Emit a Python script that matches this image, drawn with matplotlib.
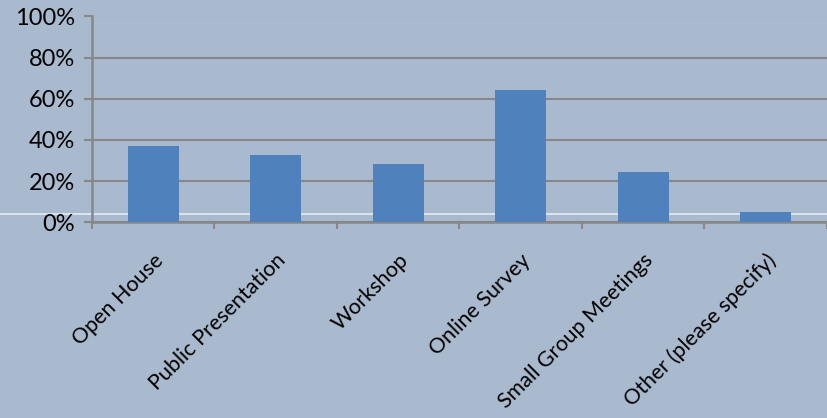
import matplotlib.pyplot as plt
import numpy as np
from matplotlib.ticker import FixedLocator, PercentFormatter

categories = ['Open House', 'Public Presentation', 'Workshop',
              'Online Survey', 'Small Group Meetings', 'Other (please specify)']
values = [37.1, 32.6, 28.1, 64.4, 24.6, 5.2]
yticks = [0, 20, 40, 60, 80, 100]

bg = '#a9b9ce'
bar_color = '#4f81bd'
grid_color = '#878787'

plt.rcParams['font.family'] = ['Lato', 'DejaVu Sans']

fig = plt.figure(figsize=(8.28, 4.18), dpi=100, facecolor=bg)
ax = fig.add_axes([92 / 828, 1 - 222.3 / 418, 735 / 828, 205.8 / 418])
ax.set_facecolor('none')

x = np.arange(len(categories))
ax.bar(x, values, width=0.42, color=bar_color, zorder=3)

# faint white line across the picture just above the baseline
ax.axhline(4.1, xmin=-92 / 735, xmax=1.2, color='#e6ecf3', lw=1.2,
           clip_on=False, zorder=1.5)

ax.set_xlim(-0.5, len(categories) - 0.5)
ax.set_ylim(0, 100)
ax.set_yticks(yticks)
ax.yaxis.set_major_formatter(PercentFormatter(decimals=0))
ax.grid(axis='y', color=grid_color, lw=1.5, zorder=1)

ax.set_xticks(x)
ax.set_xticklabels(categories, rotation=45, ha='right', rotation_mode='anchor',
                   va='top', fontsize=15.5)
ax.xaxis.set_minor_locator(FixedLocator(np.arange(-0.5, len(categories), 1.0)))
ax.tick_params(axis='x', which='major', length=0, pad=20)
ax.tick_params(axis='x', which='minor', length=5, width=1.5, color=grid_color)
ax.tick_params(axis='y', length=6, width=1.5, color=grid_color, labelsize=17, pad=6)

for side in ['top', 'right']:
    ax.spines[side].set_visible(False)
for side in ['left', 'bottom']:
    ax.spines[side].set_color(grid_color)
    ax.spines[side].set_linewidth(1.8)

fig.savefig('out.png', dpi=100, facecolor=bg)
